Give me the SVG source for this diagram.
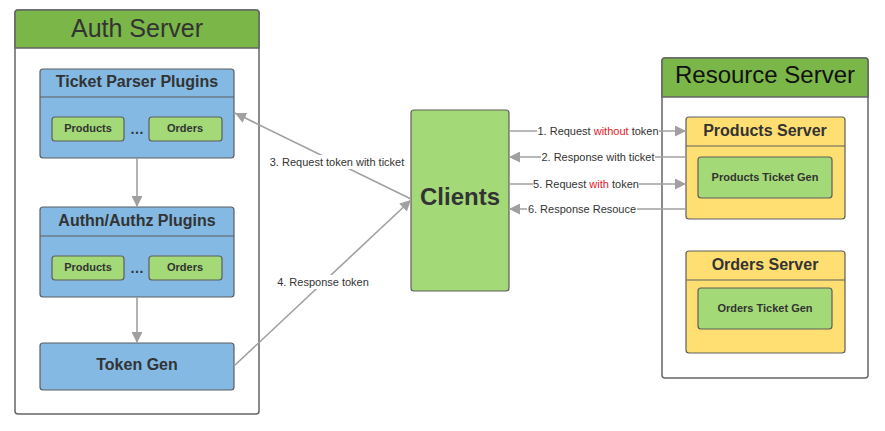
<svg xmlns="http://www.w3.org/2000/svg" width="885" height="431" viewBox="0 0 885 431">
<style>
text{font-family:"Liberation Sans",Arial,sans-serif;fill:#333;text-anchor:middle}
.frame{fill:#fff;stroke:#666;stroke-width:1.5}
.hdr{fill:#7ab648;stroke:#666;stroke-width:1.5}
.blue{fill:#83b9e3;stroke:#5e5e5e;stroke-width:1.2}
.lg{fill:#a3d977;stroke:#5e5e5e;stroke-width:1.2}
.yel{fill:#ffdf71;stroke:#5e5e5e;stroke-width:1.2}
.div{stroke:#5e5e5e;stroke-width:1.2}
.big{font-size:24px}
.t15{font-size:16px;font-weight:bold}
.t11{font-size:11px;font-weight:bold}
.dots{font-size:14px;font-weight:bold}
.lbl{font-size:11px;fill:#333}
.red{fill:#e0202a}
.con{stroke:#a0a0a0;stroke-width:1.6;fill:none}
</style>
<defs>
<marker id="ah" viewBox="0 0 10 10" refX="10" refY="5" markerWidth="11" markerHeight="11" markerUnits="userSpaceOnUse" orient="auto">
<path d="M0,0 L10,5 L0,10 z" fill="#a0a0a0"/>
</marker>
</defs>

<g id="auth-server">
<rect class="frame" x="15" y="10" width="244" height="404" rx="3"/>
<path class="hdr" d="M15,48 V13 a3,3 0 0 1 3,-3 H256 a3,3 0 0 1 3,3 V48 Z"/>
<text class="big" x="137" y="37" style="font-size:25px">Auth Server</text>
</g>

<g id="ticket-parser">
<rect class="blue" x="40" y="69" width="194" height="89" rx="3"/>
<line class="div" x1="40" y1="97" x2="234" y2="97"/>
<text class="t15" x="137" y="87">Ticket Parser Plugins</text>
<rect class="lg" x="52" y="117" width="72" height="24" rx="3"/>
<text class="t11" x="88" y="132">Products</text>
<text class="dots" x="137" y="134">…</text>
<rect class="lg" x="149" y="117" width="73" height="24" rx="3"/>
<text class="t11" x="185" y="132">Orders</text>
</g>

<g id="authn-authz">
<rect class="blue" x="40" y="207" width="194" height="90" rx="3"/>
<line class="div" x1="40" y1="236" x2="234" y2="236"/>
<text class="t15" x="137" y="226">Authn/Authz Plugins</text>
<rect class="lg" x="52" y="256" width="72" height="24" rx="3"/>
<text class="t11" x="88" y="271">Products</text>
<text class="dots" x="137" y="273">…</text>
<rect class="lg" x="149" y="256" width="73" height="24" rx="3"/>
<text class="t11" x="185" y="271">Orders</text>
</g>

<g id="token-gen">
<rect class="blue" x="40" y="343" width="194" height="47" rx="3"/>
<text class="t15" x="137" y="370">Token Gen</text>
</g>

<g id="clients">
<rect class="lg" x="411" y="110" width="98" height="181" rx="3"/>
<text x="460" y="205" style="font-size:24px;font-weight:bold">Clients</text>
</g>

<g id="resource-server">
<rect class="frame" x="662" y="58" width="206" height="320" rx="3"/>
<path class="hdr" d="M662,97 V61 a3,3 0 0 1 3,-3 H865 a3,3 0 0 1 3,3 V97 Z"/>
<text class="big" x="765" y="83" style="fill:#111">Resource Server</text>
</g>

<g id="products-server">
<rect class="yel" x="686" y="117" width="159" height="102" rx="3"/>
<line class="div" x1="686" y1="146" x2="845" y2="146"/>
<text class="t15" x="765" y="136">Products Server</text>
<rect class="lg" x="698" y="157" width="134" height="41" rx="3"/>
<text class="t11" x="765" y="181">Products Ticket Gen</text>
</g>

<g id="orders-server">
<rect class="yel" x="686" y="251" width="159" height="102" rx="3"/>
<line class="div" x1="686" y1="280" x2="845" y2="280"/>
<text class="t15" x="765" y="270">Orders Server</text>
<rect class="lg" x="698" y="288" width="134" height="41" rx="3"/>
<text class="t11" x="765" y="312">Orders Ticket Gen</text>
</g>

<g id="connectors">
<line class="con" x1="137" y1="158" x2="137" y2="207" marker-end="url(#ah)"/>
<line class="con" x1="137" y1="297" x2="137" y2="343" marker-end="url(#ah)"/>

<line class="con" x1="411" y1="199" x2="235" y2="113" marker-end="url(#ah)"/>
<rect x="268" y="155" width="138" height="14" fill="#fff"/>
<text class="lbl" x="337" y="166">3. Request token with ticket</text>

<line class="con" x1="234" y1="366" x2="411" y2="200" marker-end="url(#ah)"/>
<rect x="275" y="275" width="96" height="14" fill="#fff"/>
<text class="lbl" x="323" y="286">4. Response token</text>

<line class="con" x1="509" y1="131" x2="686" y2="131" marker-end="url(#ah)"/>
<rect x="537" y="124" width="122" height="14" fill="#fff"/>
<text class="lbl" x="598" y="135">1. Request <tspan class="red">without</tspan> token</text>

<line class="con" x1="686" y1="157" x2="509" y2="157" marker-end="url(#ah)"/>
<rect x="541" y="150" width="114" height="14" fill="#fff"/>
<text class="lbl" x="598" y="161">2. Response with ticket</text>

<line class="con" x1="509" y1="184" x2="686" y2="184" marker-end="url(#ah)"/>
<rect x="533" y="177" width="106" height="14" fill="#fff"/>
<text class="lbl" x="586" y="188">5. Request <tspan class="red">with</tspan> token</text>

<line class="con" x1="686" y1="209" x2="509" y2="209" marker-end="url(#ah)"/>
<rect x="527" y="202" width="110" height="14" fill="#fff"/>
<text class="lbl" x="582" y="213">6. Response Resouce</text>
</g>
</svg>
